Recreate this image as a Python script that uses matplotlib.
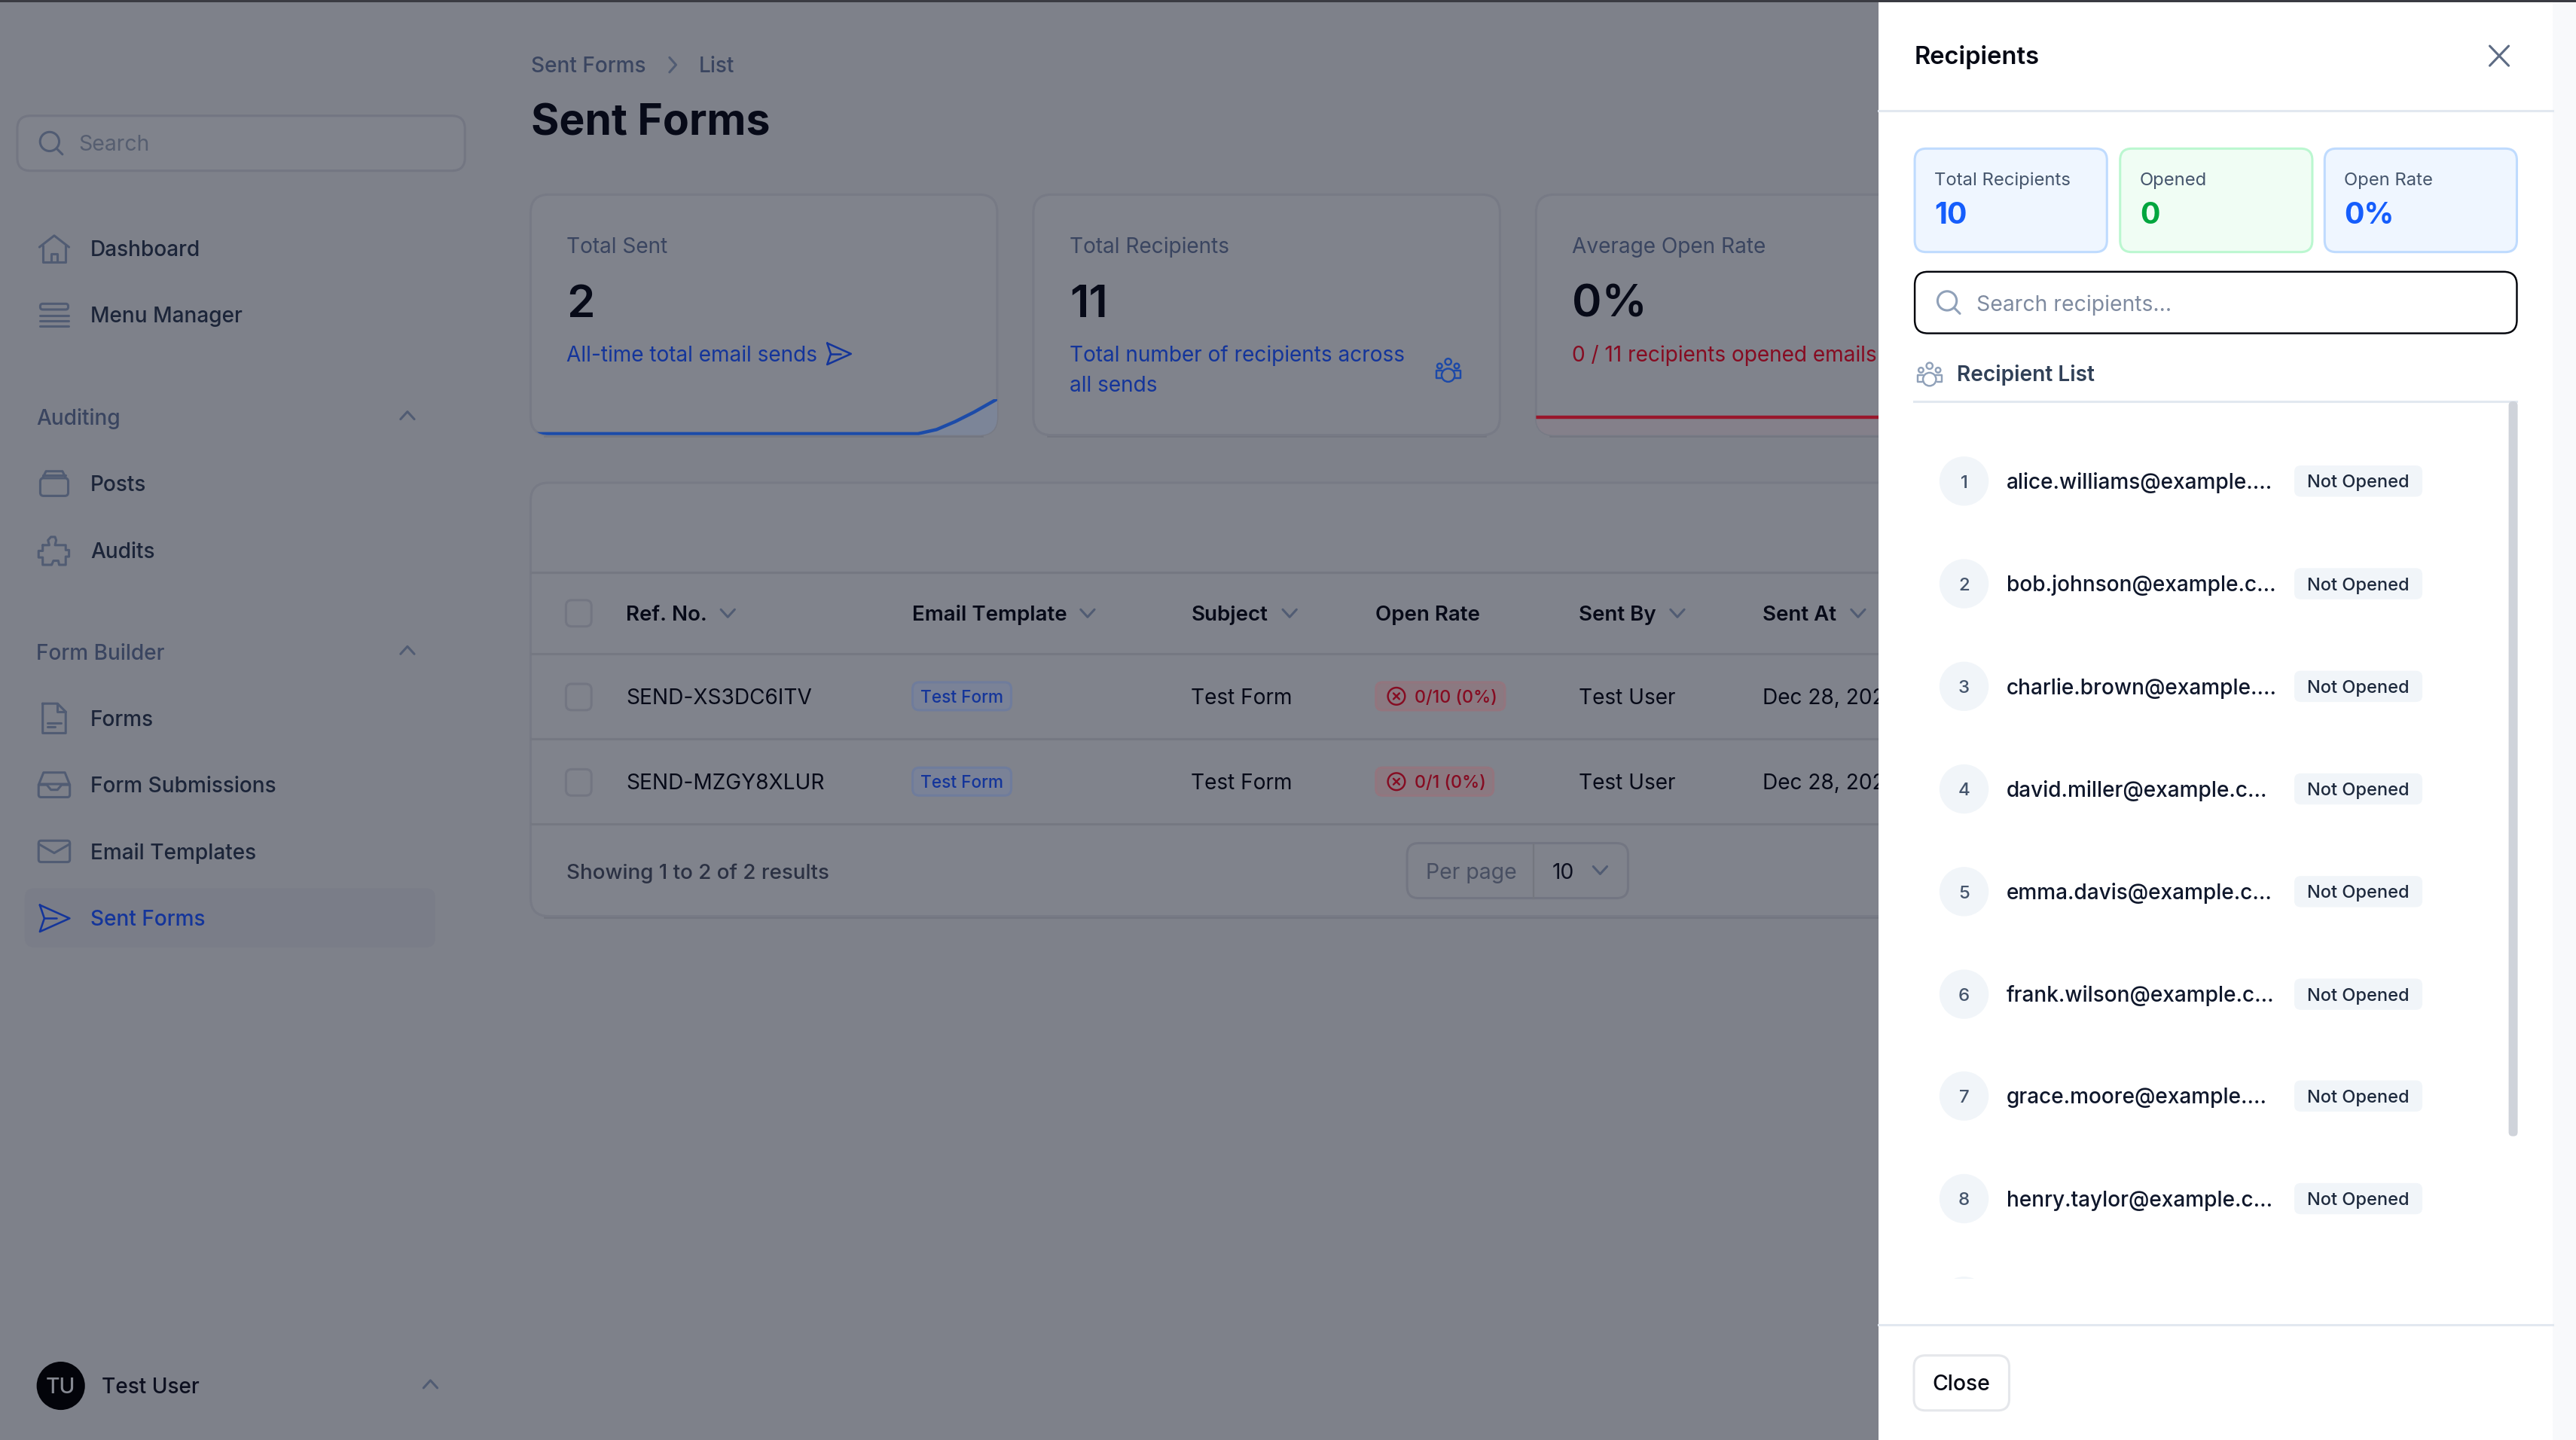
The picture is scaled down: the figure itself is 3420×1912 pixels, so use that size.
#!/usr/bin/env python3
# Sent Forms admin screen with the Recipients drawer open

import matplotlib
matplotlib.use("Agg")
import matplotlib.pyplot as plt
from matplotlib.patches import FancyBboxPatch, Circle, Rectangle

plt.rcParams['font.family'] = ['Inter', 'DejaVu Sans']

# ---- data ----
nav_top = ["Dashboard", "Menu Manager"]
nav_auditing = ["Posts", "Audits"]
nav_forms = ["Forms", "Form Submissions", "Email Templates", "Sent Forms"]

card_labels = ["Total Sent", "Total Recipients", "Average Open Rate"]
card_values = ["2", "11", "0%"]
card_notes = ["All-time total email sends",
              "Total number of recipients across\nall sends",
              "0 / 11 recipients opened emails"]

spark_x = [0.0, 0.2, 0.4, 0.6, 0.83, 0.87, 0.91, 0.95, 1.0]
spark_sent = [0.0, 0.0, 0.0, 0.0, 0.0, 0.12, 0.35, 0.62, 1.0]
spark_rate = [0.48, 0.48, 0.48, 0.48, 0.48, 0.48, 0.48, 0.48, 0.48]

table_headers = ["Ref. No.", "Email Template", "Subject", "Open Rate", "Sent By", "Sent At"]
ref_numbers = ["SEND-XS3DC6ITV", "SEND-MZGY8XLUR"]
templates = ["Test Form", "Test Form"]
subjects = ["Test Form", "Test Form"]
open_rates = ["0/10 (0%)", "0/1 (0%)"]
senders = ["Test User", "Test User"]
sent_dates = ["Dec 28, 2025", "Dec 28, 2025"]

stat_labels = ["Total Recipients", "Opened", "Open Rate"]
stat_values = ["10", "0", "0%"]
emails = ["alice.williams@example....", "bob.johnson@example.c...",
          "charlie.brown@example....", "david.miller@example.c...",
          "emma.davis@example.c...", "frank.wilson@example.c...",
          "grace.moore@example....", "henry.taylor@example.c..."]

# ---- colours ----
BG = '#7e818a'
CARD = '#80838c'
EDGE = '#777a85'
INK = '#070a18'
DARK = '#1c2539'
MUTED = '#3a4560'
ICON = '#515c73'
BLUE = '#14359a'
RED = '#860c22'

W, H = 1568, 877
fig = plt.figure(figsize=(34.2, 19.12), dpi=100, facecolor=BG)
ax = fig.add_axes([0, 0, 1, 1])
ax.set_xlim(0, W)
ax.set_ylim(H, 0)
ax.axis('off')

Z = 0  # bumped once the drawer is on top


def fs(u):
    return u * 3420 / W * 0.72


def text(x, y, s, size=12.85, color=DARK, weight='normal', ha='left', **kw):
    # y is the centre of the capitals
    return ax.text(x, y + 0.364 * size, s, fontsize=fs(size), color=color, weight=weight,
                   ha=ha, va='baseline', zorder=Z + 3, **kw)


def box(x0, y0, x1, y1, r=8, fc='none', ec='none', lw=1.0):
    p = FancyBboxPatch((x0, y0), x1 - x0, y1 - y0, boxstyle="round,pad=0,rounding_size=%g" % r,
                       fc=fc, ec=ec, lw=lw * 2.2, zorder=Z + 2, mutation_aspect=1)
    ax.add_patch(p)
    return p


def line(xs, ys, color=ICON, lw=1.0):
    ax.plot(xs, ys, color=color, lw=lw * 2.2, zorder=Z + 2.5, solid_capstyle='round',
            solid_joinstyle='round')


def ring(x, y, r, color=ICON, lw=1.0, fc='none'):
    ax.add_patch(Circle((x, y), r, fc=fc, ec=color, lw=lw * 2.2, zorder=Z + 2.5))


def chevron(x, y, up=False, w=4.2, color=ICON, lw=1.0):
    d = -2.3 if up else 2.3
    line([x - w, x, x + w], [y - d, y + d, y - d], color, lw)


def magnifier(x, y, color=ICON):
    ring(x - 0.8, y - 0.8, 5.8, color)
    line([x + 3.4, x + 7], [y + 3.4, y + 7], color)


def send_icon(x, y, color=BLUE, s=1.0):
    line([x - 7 * s, x + 7.5 * s, x - 7 * s, x - 4.8 * s, x - 7 * s],
         [y - 6.5 * s, y, y + 6.5 * s, y, y - 6.5 * s], color, 0.85)
    line([x - 4.8 * s, x + 1 * s], [y, y], color, 0.85)


def users_icon(x, y, color=BLUE):
    ring(x, y - 5.2, 1.9, color, 0.8)
    ring(x - 5.2, y - 2.6, 1.5, color, 0.8)
    ring(x + 5.2, y - 2.6, 1.5, color, 0.8)
    line([x - 4, x - 7.4, x - 7.4, x - 4.5], [y + 0.2, y + 0.2, y + 4.6, y + 4.6], color, 0.8)
    line([x + 4, x + 7.4, x + 7.4, x + 4.5], [y + 0.2, y + 0.2, y + 4.6, y + 4.6], color, 0.8)
    ring(x, y + 3, 4.0, color, 0.8)


def nav_icon(name, x, y):
    if name == "Dashboard":
        line([x - 9, x, x + 9], [y - 1, y - 8, y - 1])
        line([x - 7, x - 7, x + 7, x + 7], [y - 2, y + 8, y + 8, y - 2])
        line([x - 2, x - 2, x + 2, x + 2], [y + 8, y + 3, y + 3, y + 8])
    elif name == "Menu Manager":
        box(x - 8.5, y - 6.5, x + 8.5, y - 3, r=1.5, ec=ICON)
        for dy in (0.5, 3.8, 7):
            line([x - 8.5, x + 8.5], [y + dy, y + dy])
    elif name == "Posts":
        box(x - 8.5, y - 3.3, x + 8.5, y + 7.5, r=2, ec=ICON)
        line([x - 7, x + 7], [y - 5, y - 5])
        line([x - 7, x - 5, x + 5, x + 7], [y - 3.5, y - 7.5, y - 7.5, y - 3.5])
    elif name == "Audits":
        # puzzle piece outline
        line([x - 7, x - 3, x - 3.8, x - 2, x + 0.5, x + 1.2, x + 0.5, x + 7, x + 7, x + 9, x + 9, x + 7, x + 7,
              x + 3, x + 2.5, x - 0.5, x - 1.5, x - 2, x - 7, x - 7, x - 9.5, x - 9.5, x - 7, x - 7],
             [y - 3, y - 3, y - 6, y - 8, y - 8, y - 6, y - 3, y - 3, y + 0, y + 0, y + 4, y + 4, y + 9,
              y + 9, y + 6.5, y + 6.5, y + 9, y + 9, y + 9, y + 4.5, y + 4.5, y + 0.5, y + 0.5, y - 3])
    elif name == "Forms":
        line([x - 7, x + 2, x + 7, x + 7, x - 7, x - 7], [y - 9, y - 9, y - 4, y + 9, y + 9, y - 9])
        line([x + 2, x + 2, x + 7], [y - 9, y - 4, y - 4])
        line([x - 4, x + 4], [y + 2.7, y + 2.7])
        line([x - 4, x + 0.5], [y + 5.3, y + 5.3])
    elif name == "Form Submissions":
        line([x - 9.5, x - 6.5, x + 6.5, x + 9.5], [y, y - 7.5, y - 7.5, y])
        box(x - 9.5, y - 0.5, x + 9.5, y + 7.5, r=1.5, ec=ICON)
        line([x - 9.5, x - 4.5, x - 2, x + 2, x + 4.5, x + 9.5], [y, y, y + 3, y + 3, y, y])
    elif name == "Email Templates":
        box(x - 9.5, y - 6.5, x + 9.5, y + 6.5, r=1.5, ec=ICON)
        line([x - 9.5, x, x + 9.5], [y - 4.5, y + 1, y - 4.5])
    elif name == "Sent Forms":
        send_icon(x, y + 0.3, BLUE, 1.25)


# ---- sidebar ----
box(10.5, 70.5, 283, 104, r=8, fc=CARD, ec='#737682')
magnifier(31, 87)
text(48, 87, "Search", size=13, color='#565e70')

for name, y in zip(nav_top, [151.5, 191.5]):
    nav_icon(name, 33, y)
    text(55, y, name, weight='medium')

text(22, 254, "Auditing", color=MUTED, weight='medium')
chevron(248, 253, up=True)
for name, y in zip(nav_auditing, [294.5, 335]):
    nav_icon(name, 33, y)
    text(55, y, name, weight='medium')

text(22, 397, "Form Builder", color=MUTED, weight='medium')
chevron(248, 396, up=True)
box(15, 541, 265, 577, r=6, fc='#7a7d88')
for name, y in zip(nav_forms, [437.5, 478, 518.5, 559]):
    nav_icon(name, 33, y)
    text(55, y, name, weight='medium', color=BLUE if name == "Sent Forms" else DARK)

ax.add_patch(Circle((37, 844), 14.7, fc='#03040a', ec='none', zorder=2))
text(37, 844, "TU", size=13, color='#858891', ha='center', weight='medium')
text(62, 844, "Test User", color='#0d1020', weight='medium')
chevron(262, 843, up=True)

# ---- header ----
text(323, 39.5, "Sent Forms", color=MUTED, weight='medium')
line([407.5, 411.5, 407.5], [35, 39.5, 44])
text(425.5, 39.5, "List", color=MUTED, weight='medium')
text(323, 73, "Sent Forms", size=26.2, color=INK, weight='bold')

# ---- stat cards ----
card_x = [323, 629, 935]
card_w = 284
card_patches = []
for x, label, value, note, col in zip(card_x, card_labels, card_values, card_notes, [BLUE, BLUE, RED]):
    card_patches.append(box(x, 118.5, x + card_w, 265, r=11, fc=CARD, ec=EDGE))
    ax.plot([x + 9, x + card_w - 9], [265.6, 265.6], color='#72757f', lw=2.6, zorder=1.5)
    text(x + 22, 149.5, label, color=MUTED)
    text(x + 22, 183, value, size=27.5, color=INK, weight='semibold')
    for i, part in enumerate(note.split("\n")):
        text(x + 22, 215.5 + 18.5 * i, part, color=col)

send_icon(510.5, 215.5, BLUE, 1.0)
users_icon(881.5, 225.5, '#1c49a8')


def spark(x0, values, color, tint, clip):
    a = ax.inset_axes([x0 / W, 1 - 265 / H, card_w / W, 22 / H], zorder=2.2)
    a.set_xlim(0, 1)
    a.set_ylim(-0.04, 1)
    a.axis('off')
    a.patch.set_alpha(0)
    area = a.fill_between(spark_x, values, -0.1, color=tint, lw=0, zorder=1)
    art, = a.plot(spark_x, values, color=color, lw=3.2, zorder=2, solid_capstyle='butt')
    area.set_clip_path(clip)
    art.set_clip_path(clip)


spark(card_x[0], spark_sent, '#1c4ba8', '#7c8598', card_patches[0])
spark(card_x[2], spark_rate, '#99172b', '#84808a', card_patches[2])

# ---- table ----
tb = box(323, 294, 1300, 558, r=11, fc=CARD, ec=EDGE)
ax.plot([332, 1300], [558.6, 558.6], color='#72757f', lw=2.6, zorder=1.5)
for y in (348.5, 398, 450, 502):
    ax.plot([323, 1300], [y, y], color='#757882', lw=2.2, zorder=2.2)

col_x = [381, 555, 725, 837, 961, 1073]
chev_x = [443, 662, 785, None, 1021, 1131]
for x, cx, h in zip(col_x, chev_x, table_headers):
    text(x, 373.5, h, color=INK, weight='semibold', size=12.7)
    if cx:
        chevron(cx, 373.5, color=ICON)

for y in (373.5, 424.5, 476.5):
    box(344.5, y - 8, 360, y + 8, r=3.5, fc=CARD, ec='#737682')

rows = zip([424, 476], ref_numbers, templates, subjects, open_rates, senders, sent_dates, [916, 909])
for y, ref, tpl, sub, rate, who, when, rx in rows:
    text(381, y, ref, color=INK)
    box(555.5, y - 8.5, 615.5, y + 8.5, r=4, fc='#7a8297', ec='#6f7c9c')
    text(585.5, y, tpl, size=10.4, color=BLUE, ha='center', weight='medium')
    text(725, y, sub, color=INK)
    box(837.5, y - 8.5, rx, y + 8.5, r=4, fc='#8b7981', ec='#93757e')
    ring(850, y, 5.2, RED, 0.8)
    line([848.2, 851.8], [y - 1.8, y + 1.8], RED, 0.8)
    line([848.2, 851.8], [y + 1.8, y - 1.8], RED, 0.8)
    text(861, y, rate, size=10.7, color=RED, weight='medium')
    text(961, y, who, color=INK)
    text(1073, y, when, color=INK)

text(345, 530.5, "Showing 1 to 2 of 2 results", color='#2b3143', weight='medium', size=12.75)
box(856.5, 513.5, 991, 547, r=7, fc=CARD, ec='#737682')
ax.plot([933.5, 933.5], [514, 547], color='#74777f', lw=1.6, zorder=2.3)
text(868, 530.5, "Per page", size=13, color='#484f62')
text(945, 530.5, "10", size=13, color='#0d1020')
chevron(974, 530, color=ICON)

# ---- drawer ----
ax.add_patch(Rectangle((0, 0), W, 1.4, fc='#3a3b42', ec='none', zorder=9))
ax.add_patch(Rectangle((1143.5, 1.4), 410.5, H, fc='white', ec='none', zorder=5))
ax.add_patch(Rectangle((1554, 1.4), 14, H, fc='#f8f9fb', ec='none', zorder=5))
Z = 5

text(1165.5, 33.5, "Recipients", size=15, color='#060914', weight='semibold')
line([1515.5, 1527], [28, 40], '#5e6c84')
line([1515.5, 1527], [40, 28], '#5e6c84')
ax.plot([1143.5, 1554], [67.5, 67.5], color='#e2e8f0', lw=2.2, zorder=Z + 2)

stat_x = [(1165.5, 1282.5), (1290.5, 1407.5), (1415, 1532)]
stat_fill = ['#eff6ff', '#f0fdf4', '#eff6ff']
stat_edge = ['#bfdbfe', '#bbf7d0', '#bfdbfe']
stat_col = ['#155dfc', '#00a63e', '#155dfc']
for (x0, x1), label, value, fc, ec, col in zip(stat_x, stat_labels, stat_values, stat_fill, stat_edge, stat_col):
    box(x0, 90.5, x1, 153.5, r=7, fc=fc, ec=ec)
    text(x0 + 12, 109, label, size=10.9, color='#45556c')
    text(x0 + 12, 129.5, value, size=18, color=col, weight='bold')

box(1165.5, 165.5, 1532, 203, r=8, fc='white', ec='#03050c', lw=0.8)
magnifier(1186, 184, '#90a1b9')
text(1203, 184.5, "Search recipients...", size=13, color='#7f8ba0')

users_icon(1174.5, 228, '#90a1b9')
text(1191, 227.5, "Recipient List", size=12.9, color='#314158', weight='semibold')
ax.plot([1165, 1532], [244.5, 244.5], color='#e2e8f0', lw=2.2, zorder=Z + 2)
box(1527, 244.5, 1532.5, 692, r=2.5, fc='#cfd3da')

row_y = [293, 355.5, 418, 480.5, 543, 605.5, 667.5, 730]
for i, (y, mail) in enumerate(zip(row_y, emails)):
    ax.add_patch(Circle((1195.5, y), 15, fc='#f1f5f9', ec='none', zorder=Z + 2))
    text(1195.5, y, str(i + 1), size=11, color='#45556c', ha='center', weight='medium')
    text(1221.5, y, mail, color='#0f172b', weight='medium')
    box(1396.5, y - 9.5, 1474.5, y + 9.5, r=4, fc='#f1f5f9')
    text(1435.5, y, "Not Opened", size=10.8, color='#1d293d', ha='center', weight='medium')

# ninth row is cut off by the scroll area
ninth = Circle((1195.5, 792.5), 15, fc='#f1f5f9', ec='none', zorder=Z + 2)
ax.add_patch(ninth)
ninth.set_clip_path(Rectangle((1165, 244), 367, 535, transform=ax.transData))

ax.plot([1143.5, 1554], [807, 807], color='#e2e8f0', lw=2.2, zorder=Z + 2)
box(1165, 825.5, 1223, 859, r=7, fc='white', ec='#e5e7eb')
text(1194, 842, "Close", size=13, color='#060914', ha='center', weight='medium')

fig.savefig('out.png', dpi=100, facecolor=BG)
